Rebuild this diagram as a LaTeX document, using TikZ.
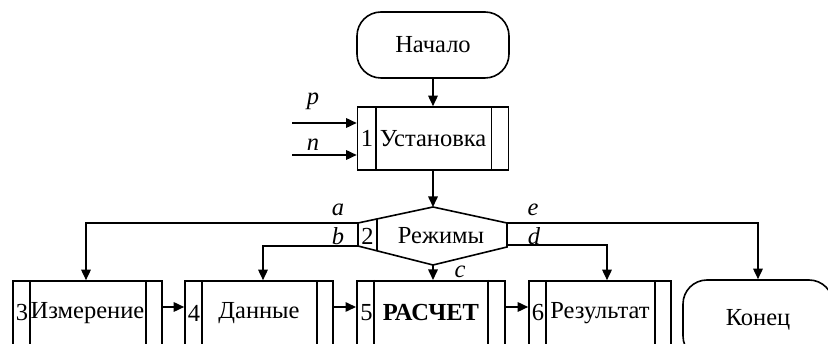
\documentclass[tikz,border=0pt]{standalone}
\usepackage{fontspec}
\setmainfont{Liberation Serif}
\usetikzlibrary{arrows.meta,calc}
\begin{document}
\begin{tikzpicture}[x=1pt,y=-1pt,
  every node/.style={font=\fontsize{24.5}{28}\selectfont, inner sep=0pt},
  line/.style={line width=1.6pt},
  arr/.style={line width=1.6pt,-{Triangle[length=10.5pt,width=9.5pt]}},
  term/.style={draw,line width=1.6pt,rounded corners=24pt,minimum width=152pt,minimum height=66pt},
  proc/.style={draw,line width=1.6pt,minimum width=149pt,minimum height=63pt},
  lbl/.style={font=\fontsize{24.5}{28}\selectfont\itshape}]
\clip (0,0) rectangle (828,344);
% start
\node[term] (start) at (433,45) {Начало};
% block 1
\node[proc,minimum width=151pt] (b1) at (433,138.5) {Установка};
\draw[line] ([xshift=19pt]b1.north west) -- ([xshift=19pt]b1.south west);
\draw[line] ([xshift=-18pt]b1.north east) -- ([xshift=-18pt]b1.south east);
\node (n1) at (367,138.5) {1};
% inputs p, n
\coordinate (pS) at (292,123);
\coordinate (nS) at (292,155);
\draw[arr] (pS) -- (pS -| b1.west);
\draw[arr] (nS) -- (nS -| b1.west);
\node[lbl] (lp) at (313,101) {p};
\node[lbl] (ln) at (313,145) {n};
% hexagon
\coordinate (hT) at (433,207);
\coordinate (hTR) at (507,223);
\coordinate (hBR) at (507,247);
\coordinate (hB) at (433,265);
\coordinate (hBL) at (358,246);
\coordinate (hTL) at (358,223);
\draw[line,line join=miter] (hT) -- (hTR) -- (hBR) -- (hB) -- (hBL) -- (hTL) -- cycle;
\draw[line] ($(hTL)!19/75!(hT)$) -- ($(hBL)!19/75!(hB)$);
\node (n2) at (367.5,236) {2};
\node (mode) at (441,236) {Режимы};
\draw[arr] (start) -- (b1);
\draw[arr] (b1.south) -- (hT);
% bottom row
\node[proc,minimum width=149pt,minimum height=64pt] (b3) at (87.5,313) {Измерение};
\node[proc,minimum width=148pt,minimum height=64pt] (b4) at (259,313) {Данные};
\node[proc,minimum width=148pt,minimum height=64pt,line width=2pt,font=\fontsize{24.5}{28}\selectfont\bfseries] (b5) at (431,313) {РАСЧЕТ};
\node[proc,minimum width=142pt,minimum height=64pt] (b6) at (600,313) {Результат};
\node[term,minimum width=150pt,minimum height=80pt] (bend) at (758,320) {Конец};
\foreach \b in {b3,b4,b6}{
  \draw[line] ([xshift=18pt]\b.north west) -- ([xshift=18pt]\b.south west);
  \draw[line] ([xshift=-17pt]\b.north east) -- ([xshift=-17pt]\b.south east);
}
\draw[line] ([xshift=18pt]b5.north west) -- ([xshift=18pt]b5.south west);
\draw[line] ([xshift=-18pt]b5.north east) -- ([xshift=-18pt]b5.south east);
\node (n3) at (22,313) {3};
\node (n4) at (194,313) {4};
\node (n5) at (366.5,313) {5};
\node (n6) at (538,313) {6};
% connectors from hexagon
\draw[arr] (hTL) -| ([xshift=-1.5pt]b3.north);
\draw[arr] (hBL) -| ([xshift=4pt]b4.north);
\draw[arr] (hB) -- (hB |- b5.north);
\draw[arr] (hTR) -| (bend.north);
\draw[arr] ([yshift=2pt]hBR) -| ([xshift=7pt]b6.north);
\node[lbl] (la) at (338,210) {a};
\node[lbl] (lb) at (338,236) {b};
\node[lbl] (le) at (533,210) {e};
\node[lbl] (ld) at (534,236) {d};
\node[lbl] (lc) at (460,272) {c};
% horizontal arrows
\draw[arr] ([yshift=6pt]b3.east) -- ([yshift=6pt]b4.west);
\draw[arr] ([yshift=6pt]b4.east) -- ([yshift=6pt]b5.west);
\draw[arr] ([yshift=6pt]b5.east) -- ([yshift=6pt]b6.west);
\end{tikzpicture}
\end{document}
